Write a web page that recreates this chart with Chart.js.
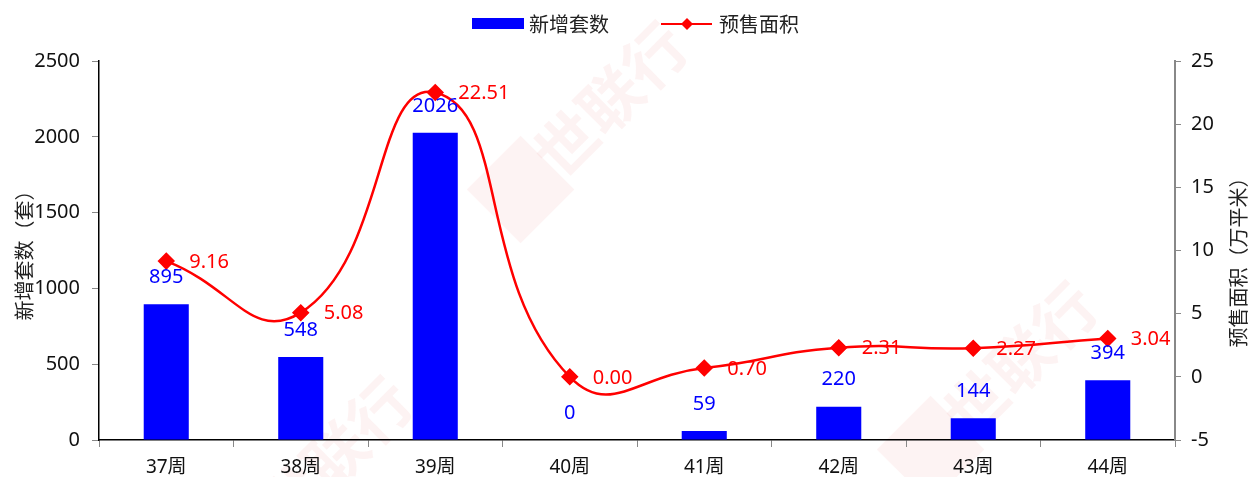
<!DOCTYPE html>
<html>
<head>
<meta charset="utf-8">
<script src="https://cdn.jsdelivr.net/npm/chart.js@4"></script>
<style>
  html, body { margin: 0; padding: 0; background: #fff; }
  #wrap { width: 1250px; height: 477px; }
</style>
</head>
<body>
<div id="wrap"><canvas id="myChart" width="1250" height="477"></canvas></div>
<script>
// data
var weeks = ["37周", "38周", "39周", "40周", "41周", "42周", "43周", "44周"];
var newUnits = [895, 548, 2026, 0, 59, 220, 144, 394];
var presaleArea = [9.16, 5.08, 22.51, 0.00, 0.70, 2.31, 2.27, 3.04];
var leftTicks = [0, 500, 1000, 1500, 2000, 2500];
var rightTicks = [-5, 0, 5, 10, 15, 20, 25];

var FONT = '"Noto Sans", "Noto Sans CJK SC", sans-serif';
var CJK = '"Noto Sans CJK SC", "Noto Sans", sans-serif';

// faint watermark behind the plot
var watermark = {
  id: "watermark",
  beforeDraw: function (chart) {
    var ctx = chart.ctx;
    var spots = [[575, 135], [985, 395], [300, 490]];
    ctx.save();
    ctx.fillStyle = "rgba(235, 120, 120, 0.09)";
    ctx.font = "bold 62px " + CJK;
    ctx.textAlign = "center";
    ctx.textBaseline = "middle";
    spots.forEach(function (p) {
      ctx.save();
      ctx.translate(p[0], p[1]);
      ctx.rotate(-Math.PI / 4);
      ctx.fillRect(-115, -38, 76, 76);
      ctx.fillText("世联行", 50, 0);
      ctx.restore();
    });
    ctx.restore();
  }
};

// value labels, legend and right axis title
var extras = {
  id: "extras",
  afterDatasetsDraw: function (chart) {
    var ctx = chart.ctx;
    ctx.save();
    ctx.textBaseline = "middle";
    ctx.font = "20px " + FONT;

    var bars = chart.getDatasetMeta(0).data;
    ctx.fillStyle = "#0000ff";
    ctx.textAlign = "center";
    bars.forEach(function (b, i) {
      ctx.fillText(String(newUnits[i]), b.x, b.y - 27);
    });

    var pts = chart.getDatasetMeta(1).data;
    ctx.fillStyle = "#ff0000";
    ctx.textAlign = "left";
    pts.forEach(function (p, i) {
      ctx.fillText(presaleArea[i].toFixed(2), p.x + 23, p.y + 1);
    });

    // legend
    ctx.font = "20px " + CJK;
    ctx.fillStyle = "#0000ff";
    ctx.fillRect(472, 18, 52, 11);
    ctx.fillStyle = "#222";
    ctx.fillText("新增套数", 529, 24);
    ctx.strokeStyle = "#ff0000";
    ctx.lineWidth = 2;
    ctx.beginPath();
    ctx.moveTo(661, 24);
    ctx.lineTo(712, 24);
    ctx.stroke();
    ctx.fillStyle = "#ff0000";
    ctx.beginPath();
    ctx.moveTo(687, 18);
    ctx.lineTo(693, 24);
    ctx.lineTo(687, 30);
    ctx.lineTo(681, 24);
    ctx.closePath();
    ctx.fill();
    ctx.fillStyle = "#222";
    ctx.fillText("预售面积", 719, 24);

    // right axis title, reading bottom to top
    var area = chart.chartArea;
    ctx.save();
    ctx.translate(1238, (area.top + area.bottom) / 2 + 7);
    ctx.rotate(-Math.PI / 2);
    ctx.textAlign = "center";
    ctx.fillStyle = "#222";
    ctx.fillText("预售面积（万平米）", 0, 0);
    ctx.restore();

    ctx.restore();
  }
};

new Chart("myChart", {
  type: "bar",
  data: {
    labels: weeks,
    datasets: [{
      type: "bar",
      label: "新增套数",
      data: newUnits,
      backgroundColor: "#0000ff",
      borderWidth: 0,
      barPercentage: 0.335,
      categoryPercentage: 1,
      yAxisID: "y",
      order: 2
    }, {
      type: "line",
      label: "预售面积",
      data: presaleArea,
      borderColor: "#ff0000",
      backgroundColor: "#ff0000",
      borderWidth: 2.5,
      tension: 0.5,
      pointStyle: "rectRot",
      pointRadius: 7,
      pointHoverRadius: 7,
      yAxisID: "y1",
      order: 1
    }]
  },
  options: {
    responsive: false,
    animation: false,
    layout: { padding: { top: 61, right: 0, left: 12, bottom: 0 } },
    plugins: {
      legend: { display: false },
      tooltip: { enabled: false }
    },
    scales: {
      x: {
        offset: true,
        afterFit: function (axis) { axis.height = 37; },
        grid: { display: true, drawOnChartArea: false, offset: true, tickLength: 7, color: "#888" },
        border: { color: "#000", width: 1.5 },
        ticks: { color: "#111", font: { size: 19, family: FONT }, padding: 9 }
      },
      y: {
        position: "left",
        min: 0, max: 2500,
        afterBuildTicks: function (axis) { axis.ticks = leftTicks.map(function (v) { return { value: v }; }); },
        afterFit: function (axis) { axis.width = 87; },
        grid: { drawOnChartArea: false, tickLength: 7, color: "#888" },
        border: { color: "#000", width: 1.5 },
        ticks: { color: "#111", font: { size: 20, family: FONT }, padding: 12, callback: function (v) { return String(v); } },
        title: { display: true, text: "新增套数（套）", color: "#222", font: { size: 20, family: CJK }, padding: 0 }
      },
      y1: {
        position: "right",
        min: -5, max: 25,
        afterBuildTicks: function (axis) { axis.ticks = rightTicks.map(function (v) { return { value: v }; }); },
        afterFit: function (axis) { axis.width = 75; },
        grid: { drawOnChartArea: false, tickLength: 6, color: "#888" },
        border: { color: "#888", width: 2 },
        ticks: { color: "#111", font: { size: 20, family: FONT }, padding: 10 }
      }
    }
  },
  plugins: [watermark, extras]
});
</script>
</body>
</html>
